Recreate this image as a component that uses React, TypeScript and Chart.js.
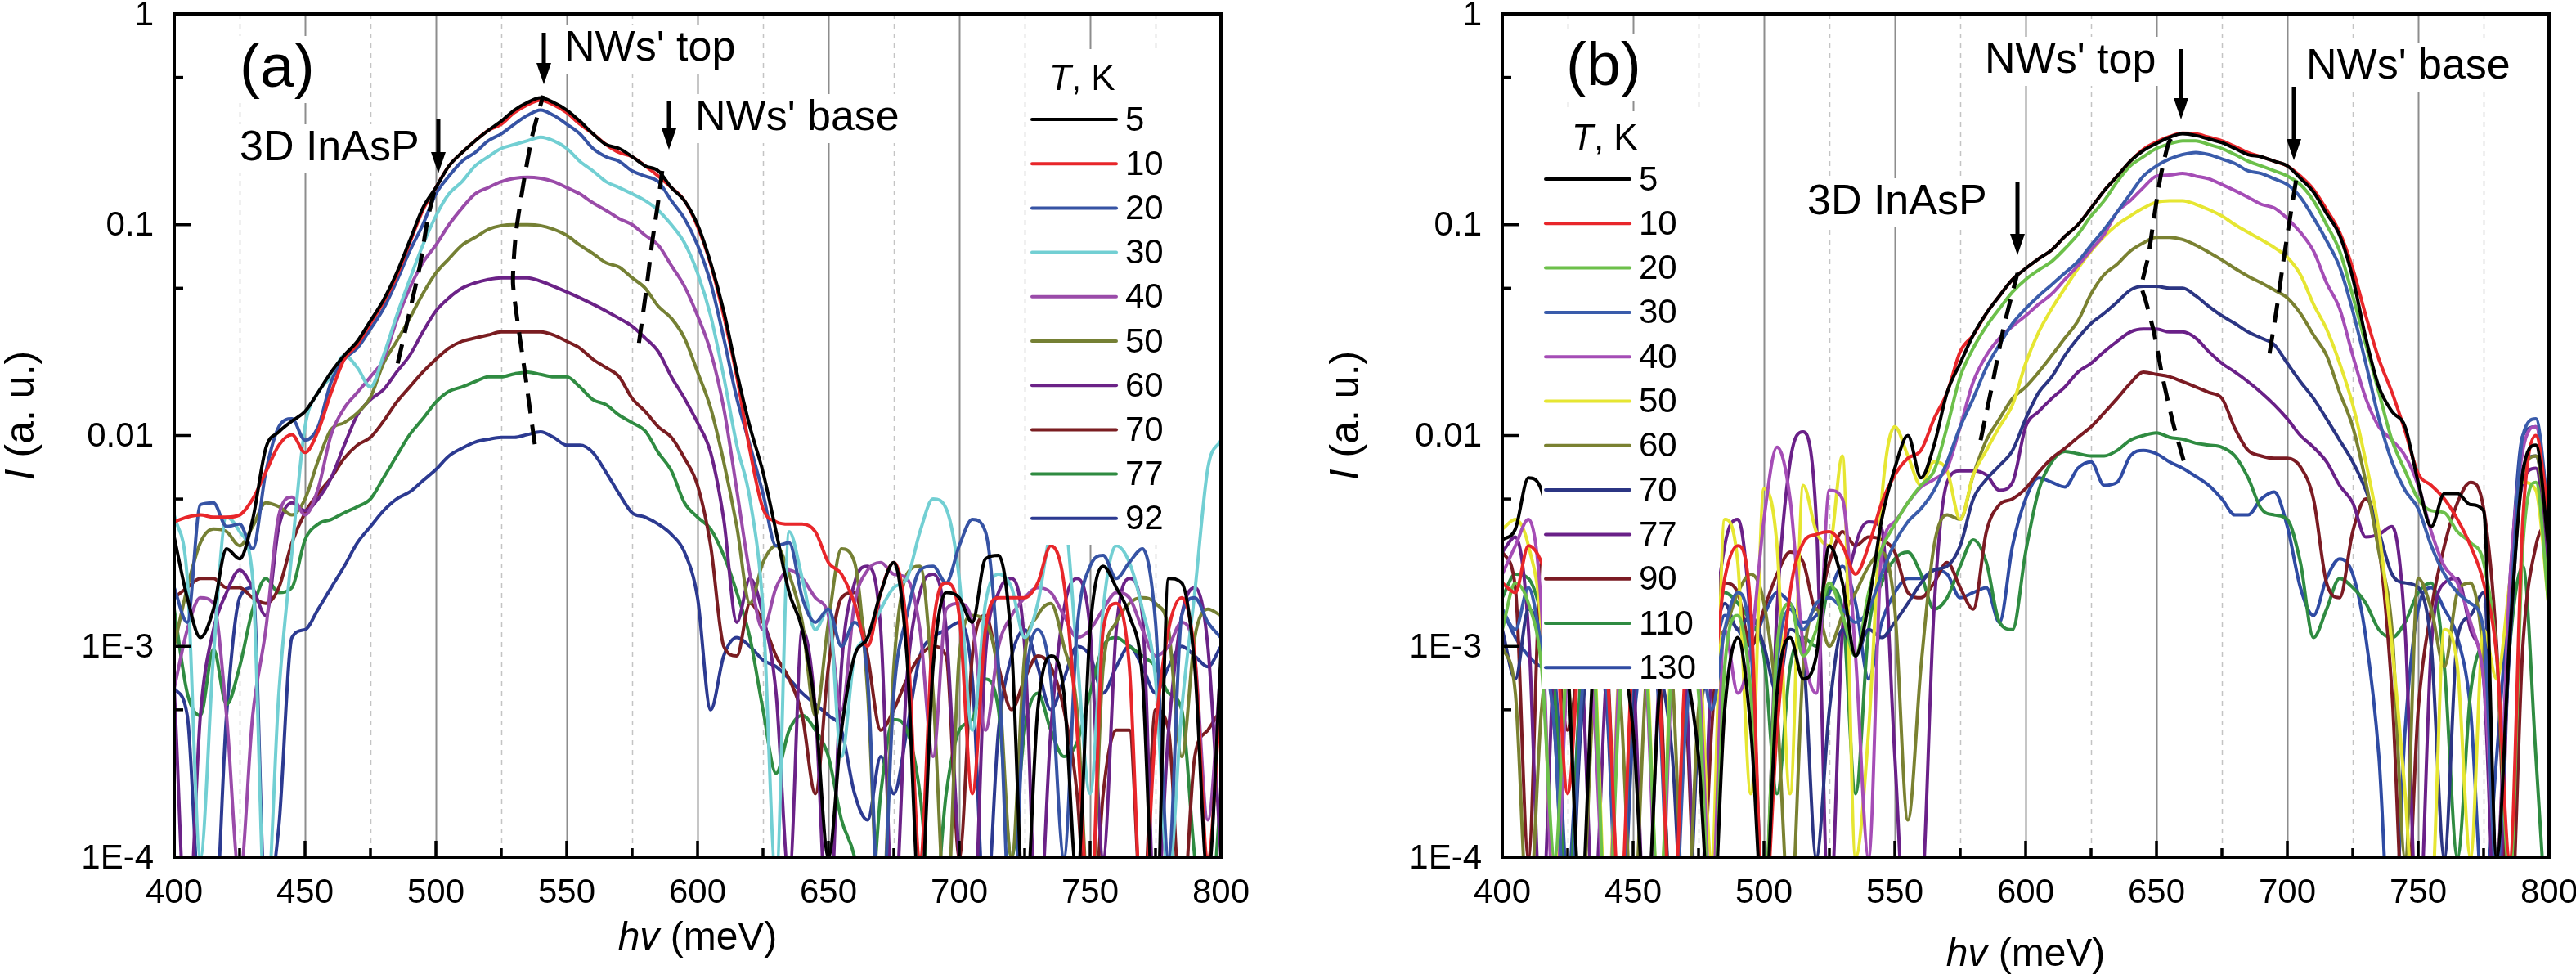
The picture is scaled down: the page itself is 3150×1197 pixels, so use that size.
import { useEffect, useRef } from 'react'
import Chart from 'chart.js/auto'

const FONT = "'Liberation Sans', Arial, Helvetica, sans-serif"

// photon energy grid, meV (both panels)
const energy = [
  400, 405, 410, 415, 420, 425, 430, 435, 440, 445,
  450, 455, 460, 465, 470, 475, 480, 485, 490, 495,
  500, 505, 510, 515, 520, 525, 530, 535, 540, 545,
  550, 555, 560, 565, 570, 575, 580, 585, 590, 595,
  600, 605, 610, 615, 620, 625, 630, 635, 640, 645,
  650, 655, 660, 665, 670, 675, 680, 685, 690, 695,
  700, 705, 710, 715, 720, 725, 730, 735, 740, 745,
  750, 755, 760, 765, 770, 775, 780, 785, 790, 795,
  800,
]

const energyTicks = [400, 450, 500, 550, 600, 650, 700, 750, 800]
const energyMinor = [425, 475, 525, 575, 625, 675, 725, 775]
const intensityTicks = [1, 0.1, 0.01, 0.001, 0.0001]
const intensityLabels = ['1', '0.1', '0.01', '1E-3', '1E-4']
const intensityMinor = [0.5, 0.05, 0.005, 0.0005]

// ---- panel (a) ----
const tempsA = ['5', '10', '20', '30', '40', '50', '60', '70', '77', '92']
const colorsA = ['#000000', '#e8262a', '#3653a4', '#72cfd3', '#9a4ba9', '#758034', '#6b2287', '#7a1d21', '#2f8b41', '#2c3a91']

const a5K = [
  0.0033, 0.0017, 0.0011, 0.0015, 0.0029, 0.0026, 0.0040, 0.0087, 0.0104, 0.0117,
  0.013, 0.016, 0.020, 0.024, 0.028, 0.035, 0.044, 0.059, 0.084, 0.12,
  0.15, 0.19, 0.22, 0.25, 0.28, 0.31, 0.35, 0.38, 0.40, 0.38,
  0.35, 0.31, 0.27, 0.24, 0.23, 0.21, 0.19, 0.18, 0.15, 0.13,
  0.10, 0.066, 0.039, 0.020, 0.011, 0.0067, 0.0035, 0.0018, 0.0012, 0.0005,
  0.0001, 0.0004, 0.0009, 0.0011, 0.0018, 0.0025, 0.0009, 0.00006, 0.0008, 0.0018,
  0.0017, 0.0013, 0.0026, 0.0027, 0.0010, 0.00005, 0.0005, 0.0009, 0.0006, 0.00008,
  0.0012, 0.0024, 0.0019, 0.0014, 0.0007, 0.00004, 0.0021, 0.0020, 0.0008, 0.00008,
  0.0009,
]
const a10K = [
  0.0039, 0.0041, 0.0042, 0.0041, 0.0041, 0.0042, 0.0050, 0.0067, 0.0090, 0.0101,
  0.0083, 0.0105, 0.016, 0.023, 0.027, 0.034, 0.043, 0.057, 0.082, 0.117,
  0.15, 0.19, 0.22, 0.25, 0.28, 0.30, 0.34, 0.37, 0.39, 0.37,
  0.34, 0.30, 0.27, 0.24, 0.22, 0.21, 0.19, 0.17, 0.15, 0.13,
  0.098, 0.065, 0.037, 0.019, 0.0085, 0.0045, 0.0039, 0.0038, 0.0038, 0.0035,
  0.0025, 0.0022, 0.0016, 0.0010, 0.0018, 0.0025, 0.0012, 0.0001, 0.0012, 0.0020,
  0.0014, 0.0002, 0.0012, 0.0017, 0.0017, 0.0017, 0.0020, 0.0030, 0.0020, 0.0004,
  0.00005, 0.0012, 0.0016, 0.0008, 0.00005, 0.0004, 0.0012, 0.0017, 0.0009, 0.0001,
  0.0006,
]
const a20K = [
  0.0019, 0.0013, 0.0047, 0.0048, 0.0037, 0.0038, 0.0029, 0.0067, 0.011, 0.012,
  0.0095, 0.011, 0.018, 0.023, 0.026, 0.032, 0.040, 0.054, 0.075, 0.10,
  0.14, 0.17, 0.20, 0.22, 0.25, 0.27, 0.30, 0.33, 0.35, 0.33,
  0.30, 0.27, 0.23, 0.21, 0.20, 0.18, 0.17, 0.16, 0.13, 0.107,
  0.080, 0.053, 0.029, 0.015, 0.0090, 0.0053, 0.0030, 0.0031, 0.0017, 0.0013,
  0.0015, 0.0010, 0.0013, 0.0007, 0.00004, 0.0006, 0.0014, 0.0023, 0.0024, 0.0020,
  0.0030, 0.0040, 0.0035, 0.0008, 0.00004, 0.0006, 0.0012, 0.0007, 0.0001, 0.0012,
  0.0024, 0.0027, 0.0021, 0.0025, 0.0029, 0.0013, 0.0001, 0.0014, 0.0017, 0.0013,
  0.0011,
]
const a30K = [
  0.0042, 0.0021, 0.0001, 0.0009, 0.0041, 0.0035, 0.0021, 0.00005, 0.0006, 0.0028,
  0.011, 0.016, 0.019, 0.024, 0.021, 0.017, 0.024, 0.037, 0.055, 0.080,
  0.11, 0.14, 0.16, 0.19, 0.21, 0.23, 0.24, 0.25, 0.26, 0.25,
  0.23, 0.20, 0.18, 0.16, 0.15, 0.14, 0.13, 0.117, 0.10, 0.082,
  0.059, 0.037, 0.019, 0.0090, 0.0050, 0.0015, 0.00008, 0.0035, 0.0021, 0.0012,
  0.0015, 0.0003, 0.0009, 0.0011, 0.0015, 0.0019, 0.0021, 0.0035, 0.0050, 0.0045,
  0.0021, 0.0004, 0.0016, 0.0022, 0.0019, 0.0011, 0.0016, 0.0035, 0.0040, 0.0009,
  0.0002, 0.0015, 0.0030, 0.0025, 0.0015, 0.0007, 0.00008, 0.0005, 0.0018, 0.0070,
  0.0095,
]
const a40K = [
  0.00063, 0.0012, 0.0017, 0.0016, 0.00047, 0.00008, 0.00047, 0.0012, 0.0042, 0.0051,
  0.0042, 0.0056, 0.0101, 0.0135, 0.016, 0.019, 0.023, 0.035, 0.050, 0.066,
  0.080, 0.10, 0.12, 0.14, 0.15, 0.16, 0.166, 0.168, 0.166, 0.16,
  0.15, 0.14, 0.127, 0.117, 0.107, 0.10, 0.089, 0.080, 0.064, 0.051,
  0.037, 0.025, 0.0135, 0.0055, 0.0022, 0.0012, 0.0019, 0.0023, 0.0021, 0.0017,
  0.0014, 0.0005, 0.0016, 0.0023, 0.0025, 0.0022, 0.0021, 0.0012, 0.0003, 0.0015,
  0.0016, 0.0013, 0.0004, 0.0010, 0.0014, 0.0017, 0.0019, 0.0018, 0.0014, 0.0011,
  0.0012, 0.0015, 0.0018, 0.0017, 0.0012, 0.0009, 0.0010, 0.0013, 0.0009, 0.00015,
  0.0008,
]
const a50K = [
  0.0010, 0.0019, 0.0031, 0.0036, 0.0035, 0.0030, 0.0037, 0.0048, 0.0046, 0.0042,
  0.0050, 0.0076, 0.0107, 0.0115, 0.0128, 0.0152, 0.022, 0.028, 0.036, 0.047,
  0.059, 0.069, 0.080, 0.087, 0.095, 0.099, 0.10, 0.10, 0.099, 0.095,
  0.089, 0.080, 0.073, 0.066, 0.063, 0.056, 0.050, 0.041, 0.036, 0.029,
  0.020, 0.0135, 0.0075, 0.0037, 0.0016, 0.0025, 0.0030, 0.0022, 0.0013, 0.00047,
  0.0013, 0.0029, 0.0025, 0.0006, 0.00004, 0.0008, 0.0022, 0.0024, 0.0006, 0.00005,
  0.0009, 0.0014, 0.0013, 0.0007, 0.0001, 0.0009, 0.0014, 0.0016, 0.0010, 0.0005,
  0.00005, 0.0008, 0.0013, 0.0016, 0.0017, 0.0016, 0.0012, 0.0003, 0.0011, 0.0015,
  0.0014,
]
const a60K = [
  0.00063, 0.00004, 0.00047, 0.0012, 0.0018, 0.0023, 0.0019, 0.0014, 0.0037, 0.0048,
  0.0044, 0.0050, 0.0063, 0.0090, 0.0125, 0.0148, 0.0165, 0.020, 0.024, 0.031,
  0.039, 0.045, 0.050, 0.053, 0.055, 0.056, 0.056, 0.056, 0.054, 0.051,
  0.048, 0.045, 0.042, 0.039, 0.036, 0.033, 0.029, 0.025, 0.019, 0.015,
  0.0115, 0.0083, 0.0040, 0.0013, 0.0021, 0.0014, 0.0006, 0.00008, 0.0012, 0.0005,
  0.00004, 0.0008, 0.0020, 0.0024, 0.0012, 0.00005, 0.0007, 0.0018, 0.0022, 0.0012,
  0.0001, 0.00004, 0.0009, 0.0018, 0.0021, 0.0010, 0.00004, 0.0004, 0.0015, 0.0021,
  0.0012, 0.0001, 0.0012, 0.0021, 0.0014, 0.00005, 0.0004, 0.0014, 0.0019, 0.0010,
  0.0001,
]
const a70K = [
  0.0017, 0.0019, 0.0021, 0.0021, 0.0019, 0.0019, 0.0017, 0.0016, 0.0019, 0.0031,
  0.0043, 0.0053, 0.0063, 0.0078, 0.0090, 0.0098, 0.0117, 0.0144, 0.017, 0.020,
  0.023, 0.026, 0.028, 0.029, 0.030, 0.031, 0.031, 0.031, 0.031, 0.030,
  0.028, 0.026, 0.023, 0.021, 0.019, 0.015, 0.013, 0.011, 0.0098, 0.0078,
  0.0058, 0.0030, 0.0010, 0.0009, 0.0016, 0.0013, 0.0009, 0.0007, 0.00047, 0.0002,
  0.0008, 0.0017, 0.0018, 0.0009, 0.0004, 0.0005, 0.0007, 0.0009, 0.0010, 0.0009,
  0.0001, 0.0009, 0.0014, 0.0008, 0.0005, 0.0007, 0.0009, 0.0008, 0.0005, 0.0002,
  0.00003, 0.0002, 0.0004, 0.0004, 0.00005, 0.0005, 0.0004, 0.00005, 0.0003, 0.0004,
  0.0005,
]
const a77K = [
  0.0015, 0.0006, 0.00047, 0.00097, 0.00053, 0.0008, 0.0015, 0.0021, 0.0018, 0.0019,
  0.0032, 0.0038, 0.0040, 0.0043, 0.0046, 0.0050, 0.0063, 0.0080, 0.0101, 0.012,
  0.0144, 0.0162, 0.017, 0.018, 0.019, 0.019, 0.0196, 0.020, 0.0195, 0.019,
  0.019, 0.017, 0.0148, 0.014, 0.0125, 0.0115, 0.0105, 0.0083, 0.0068, 0.0048,
  0.0041, 0.0036, 0.0027, 0.0018, 0.0011, 0.0005, 0.00025, 0.0004, 0.00047, 0.0004,
  0.0003, 0.00015, 0.0001, 0.00004, 0.0002, 0.00045, 0.0004, 0.0002, 0.00005, 0.0002,
  0.0004, 0.00045, 0.0007, 0.0005, 0.0001, 0.0004, 0.0006, 0.0004, 0.0003, 0.00035,
  0.0006, 0.0010, 0.0011, 0.0010, 0.0009, 0.0008, 0.0006, 0.0005, 0.0001, 0.00004,
  0.0002,
]
const a92K = [
  0.00063, 0.00047, 0.00005, 0.00004, 0.00047, 0.0017, 0.0019, 0.00006, 0.00014, 0.0011,
  0.0012, 0.0015, 0.0019, 0.0024, 0.0031, 0.0037, 0.0044, 0.0050, 0.0054, 0.0061,
  0.0069, 0.0080, 0.0087, 0.0093, 0.0096, 0.0098, 0.0098, 0.0101, 0.0104, 0.0098,
  0.0090, 0.0090, 0.0083, 0.0067, 0.0053, 0.0043, 0.0041, 0.0038, 0.0034, 0.0028,
  0.0017, 0.0005, 0.0009, 0.0011, 0.0010, 0.00086, 0.0008, 0.0007, 0.0006, 0.00053,
  0.00047, 0.0004, 0.0002, 0.00015, 0.0003, 0.0002, 0.0004, 0.0009, 0.0011, 0.0012,
  0.0013, 0.0007, 0.00005, 0.0004, 0.0009, 0.0012, 0.0008, 0.0005, 0.0007, 0.0010,
  0.0009, 0.0006, 0.0008, 0.0010, 0.0008, 0.0006, 0.0008, 0.0010, 0.0009, 0.0008,
  0.0010,
]

// dashed guides in (a): [meV, intensity]
const guideA1 = [[485.4, 0.022], [489.6, 0.037], [493.8, 0.063], [496.9, 0.107], [500, 0.155]]
const guideA2 = [[537.8, 0.0091], [534, 0.02], [529.5, 0.052], [530.5, 0.089], [533.5, 0.158], [537, 0.27], [541, 0.41]]
const guideA3 = [[577.6, 0.0275], [580.2, 0.047], [582.8, 0.085], [584.9, 0.127], [586.5, 0.18]]

// ---- panel (b) ----
const tempsB = ['5', '10', '20', '30', '40', '50', '60', '70', '77', '90', '110', '130']
const colorsB = ['#000000', '#e8262a', '#6cc04a', '#3a5cab', '#a54db6', '#e6e632', '#7a8131', '#2b3583', '#6a2088', '#7b1b23', '#2f8b41', '#2f4ba3']

const b5K = [
  0.0032, 0.0036, 0.0063, 0.0055, 0.0025, 0.0008, 0.00006, 0.0009, 0.0015, 0.0010,
  0.0004, 0.00005, 0.0006, 0.0012, 0.0008, 0.0003, 0.00004, 0.0005, 0.0011, 0.0004,
  0.00005, 0.0006, 0.0011, 0.0007, 0.0009, 0.0030, 0.0020, 0.0009, 0.0016, 0.0040,
  0.0070, 0.0100, 0.0063, 0.0090, 0.016, 0.022, 0.030, 0.038, 0.046, 0.055,
  0.062, 0.069, 0.076, 0.088, 0.10, 0.12, 0.145, 0.17, 0.20, 0.225,
  0.243, 0.26, 0.27, 0.265, 0.255, 0.245, 0.23, 0.215, 0.21, 0.20,
  0.19, 0.166, 0.143, 0.113, 0.089, 0.056, 0.029, 0.017, 0.013, 0.011,
  0.006, 0.0037, 0.0053, 0.0053, 0.0047, 0.0044, 0.0001, 0.0011, 0.0067, 0.009,
  0.0028,
]
const b10K = [
  0.0020, 0.0018, 0.0030, 0.0025, 0.0015, 0.0002, 0.0012, 0.0020, 0.0008, 0.00006,
  0.0010, 0.0018, 0.0006, 0.00004, 0.0008, 0.0016, 0.0007, 0.0021, 0.0030, 0.0015,
  0.00005, 0.0004, 0.0018, 0.0031, 0.0034, 0.0035, 0.0030, 0.0022, 0.0030, 0.0048,
  0.0065, 0.0078, 0.0085, 0.012, 0.016, 0.025, 0.030, 0.038, 0.046, 0.055,
  0.062, 0.069, 0.076, 0.088, 0.10, 0.12, 0.145, 0.17, 0.20, 0.228,
  0.247, 0.262, 0.272, 0.27, 0.26, 0.25, 0.235, 0.22, 0.21, 0.20,
  0.19, 0.17, 0.147, 0.118, 0.092, 0.062, 0.037, 0.023, 0.016, 0.0105,
  0.0066, 0.0058, 0.0050, 0.0040, 0.0030, 0.0020, 0.0009, 0.0001, 0.0040, 0.010,
  0.0040,
]
const b20K = [
  0.0012, 0.0020, 0.0016, 0.0008, 0.0001, 0.0010, 0.0018, 0.0009, 0.00004, 0.0006,
  0.0014, 0.0008, 0.00006, 0.0009, 0.0015, 0.0006, 0.00004, 0.0008, 0.0014, 0.0006,
  0.00006, 0.0010, 0.0016, 0.0009, 0.0012, 0.0020, 0.0014, 0.0009, 0.0018, 0.0029,
  0.0038, 0.0048, 0.0058, 0.0068, 0.011, 0.019, 0.026, 0.033, 0.040, 0.048,
  0.055, 0.061, 0.067, 0.077, 0.090, 0.11, 0.13, 0.16, 0.19, 0.21,
  0.23, 0.242, 0.25, 0.25, 0.24, 0.23, 0.215, 0.20, 0.19, 0.18,
  0.17, 0.155, 0.13, 0.10, 0.075, 0.046, 0.027, 0.016, 0.0095, 0.0068,
  0.0050, 0.0044, 0.0043, 0.0035, 0.0031, 0.0025, 0.0009, 0.00008, 0.0030, 0.0060,
  0.0015,
]
const b30K = [
  0.0015, 0.0012, 0.0019, 0.0010, 0.0004, 0.00003, 0.0005, 0.0012, 0.0006, 0.00004,
  0.0008, 0.0013, 0.0005, 0.00003, 0.0004, 0.0010, 0.0005, 0.0012, 0.0018, 0.0010,
  0.00006, 0.0008, 0.0015, 0.0012, 0.0016, 0.0017, 0.0015, 0.0013, 0.0015, 0.0022,
  0.0031, 0.0039, 0.0045, 0.0055, 0.0075, 0.011, 0.015, 0.021, 0.027, 0.034,
  0.040, 0.046, 0.052, 0.059, 0.067, 0.080, 0.095, 0.115, 0.14, 0.17,
  0.19, 0.205, 0.215, 0.22, 0.215, 0.205, 0.195, 0.18, 0.175, 0.165,
  0.155, 0.135, 0.108, 0.084, 0.063, 0.039, 0.022, 0.012, 0.0075, 0.0055,
  0.0045, 0.0030, 0.0022, 0.0018, 0.0016, 0.0012, 0.00008, 0.0012, 0.010, 0.012,
  0.0040,
]
const b40K = [
  0.0022, 0.0030, 0.0040, 0.0015, 0.00005, 0.0008, 0.0015, 0.0005, 0.00004, 0.0009,
  0.0016, 0.0007, 0.00004, 0.0008, 0.0015, 0.0008, 0.00006, 0.0012, 0.0006, 0.0010,
  0.0040, 0.0088, 0.0050, 0.0010, 0.0006, 0.0055, 0.0050, 0.0009, 0.0001, 0.0028,
  0.0039, 0.0048, 0.0057, 0.0062, 0.0070, 0.011, 0.018, 0.024, 0.029, 0.033,
  0.037, 0.042, 0.047, 0.055, 0.064, 0.076, 0.090, 0.115, 0.13, 0.15,
  0.17, 0.172, 0.175, 0.17, 0.165, 0.155, 0.145, 0.135, 0.125, 0.12,
  0.107, 0.092, 0.075, 0.053, 0.040, 0.024, 0.015, 0.011, 0.0095, 0.0080,
  0.0058, 0.0035, 0.0024, 0.0020, 0.0013, 0.0007, 0.0001, 0.0020, 0.0085, 0.011,
  0.0035,
]
const b50K = [
  0.0036, 0.0040, 0.0030, 0.0012, 0.00006, 0.0012, 0.0022, 0.0010, 0.00005, 0.0010,
  0.0020, 0.0010, 0.00005, 0.0012, 0.0024, 0.0012, 0.0001, 0.0040, 0.0025, 0.0002,
  0.0056, 0.0030, 0.0002, 0.0058, 0.0035, 0.0030, 0.0080, 0.0001, 0.0004, 0.0050,
  0.011, 0.0080, 0.0058, 0.0075, 0.0068, 0.0040, 0.0065, 0.0085, 0.011, 0.014,
  0.022, 0.031, 0.040, 0.050, 0.062, 0.075, 0.088, 0.10, 0.11, 0.12,
  0.128, 0.13, 0.13, 0.125, 0.118, 0.11, 0.10, 0.092, 0.085, 0.078,
  0.070, 0.058, 0.042, 0.032, 0.022, 0.014, 0.0075, 0.0035, 0.0010, 0.0002,
  0.00003, 0.00005, 0.0012, 0.0008, 0.0001, 0.0012, 0.0007, 0.0020, 0.0060, 0.0055,
  0.0015,
]
const b60K = [
  0.0010, 0.0006, 0.00005, 0.0005, 0.0012, 0.0008, 0.00005, 0.0006, 0.0012, 0.0006,
  0.00005, 0.0007, 0.0013, 0.0007, 0.00004, 0.0005, 0.0010, 0.0012, 0.0018, 0.0022,
  0.0016, 0.0005, 0.00005, 0.0008, 0.0015, 0.0010, 0.0014, 0.0018, 0.0024, 0.0028,
  0.0015, 0.00015, 0.0008, 0.0030, 0.0042, 0.0040, 0.0065, 0.0095, 0.012, 0.015,
  0.017, 0.020, 0.024, 0.029, 0.035, 0.047, 0.058, 0.065, 0.075, 0.082,
  0.087, 0.087, 0.085, 0.080, 0.074, 0.068, 0.062, 0.057, 0.053, 0.049,
  0.045, 0.038, 0.030, 0.024, 0.016, 0.011, 0.0060, 0.0028, 0.0012, 0.0001,
  0.0021, 0.0015, 0.0008, 0.0018, 0.0020, 0.0009, 0.0001, 0.0015, 0.0065, 0.0080,
  0.0030,
]
const b70K = [
  0.0012, 0.0007, 0.0015, 0.0011, 0.0004, 0.00003, 0.0004, 0.0010, 0.0006, 0.00005,
  0.0006, 0.0012, 0.0008, 0.0003, 0.00003, 0.0004, 0.0009, 0.0016, 0.0012, 0.0014,
  0.0010, 0.0006, 0.0012, 0.0009, 0.0001, 0.0005, 0.0012, 0.0009, 0.0012, 0.0011,
  0.0013, 0.0016, 0.0020, 0.0023, 0.0024, 0.0030, 0.0050, 0.0062, 0.0072, 0.0085,
  0.012, 0.016, 0.019, 0.024, 0.029, 0.034, 0.038, 0.043, 0.049, 0.051,
  0.051, 0.050, 0.050, 0.046, 0.041, 0.037, 0.034, 0.031, 0.029, 0.027,
  0.022, 0.018, 0.015, 0.012, 0.0095, 0.0075, 0.0055, 0.0035, 0.0022, 0.0020,
  0.0019, 0.0010, 0.0001, 0.0011, 0.0014, 0.0018, 0.0001, 0.0010, 0.0070, 0.0080,
  0.0030,
]
const b77K = [
  0.0028, 0.0033, 0.0012, 0.00005, 0.0010, 0.0020, 0.0010, 0.00006, 0.0008, 0.0016,
  0.0008, 0.00004, 0.0007, 0.0015, 0.0007, 0.00004, 0.0008, 0.0030, 0.0040, 0.0012,
  0.00005, 0.0015, 0.0075, 0.0104, 0.0040, 0.00005, 0.0012, 0.0030, 0.0039, 0.0036,
  0.0003, 0.00003, 0.00005, 0.0015, 0.0060, 0.0068, 0.0068, 0.0065, 0.0055, 0.0060,
  0.011, 0.013, 0.015, 0.017, 0.020, 0.022, 0.025, 0.028, 0.031, 0.032,
  0.032, 0.031, 0.031, 0.029, 0.025, 0.022, 0.020, 0.018, 0.016, 0.014,
  0.012, 0.010, 0.0088, 0.0075, 0.0058, 0.0048, 0.0033, 0.0034, 0.0037, 0.0012,
  0.00004, 0.0010, 0.0020, 0.0021, 0.0012, 0.0007, 0.00004, 0.0012, 0.0060, 0.0070,
  0.0020,
]
const b90K = [
  0.0028, 0.0019, 0.0001, 0.0025, 0.0012, 0.0004, 0.0010, 0.0018, 0.0009, 0.00005,
  0.0009, 0.0016, 0.0008, 0.00004, 0.0004, 0.00003, 0.0004, 0.0020, 0.0018, 0.0010,
  0.0015, 0.0022, 0.0028, 0.0025, 0.0015, 0.0025, 0.0035, 0.0030, 0.0033, 0.0032,
  0.0028, 0.0018, 0.0017, 0.0020, 0.0025, 0.0019, 0.0015, 0.0035, 0.0047, 0.0050,
  0.0056, 0.0067, 0.0078, 0.0087, 0.0098, 0.011, 0.0128, 0.015, 0.0177, 0.020,
  0.0195, 0.019, 0.018, 0.017, 0.016, 0.015, 0.0108, 0.0085, 0.0080, 0.0078,
  0.0078, 0.0071, 0.0050, 0.0020, 0.0017, 0.0035, 0.0050, 0.0030, 0.0006, 0.00004,
  0.0005, 0.0015, 0.0030, 0.0048, 0.0060, 0.0045, 0.0010, 0.00004, 0.0010, 0.0030,
  0.0040,
]
const b110K = [
  0.0017, 0.0022, 0.0021, 0.0014, 0.0006, 0.00005, 0.0007, 0.0013, 0.0007, 0.00005,
  0.0006, 0.0012, 0.0007, 0.00004, 0.0006, 0.0012, 0.0016, 0.0018, 0.0016, 0.0013,
  0.0009, 0.0002, 0.0008, 0.0011, 0.0010, 0.0019, 0.0015, 0.0002, 0.0012, 0.0020,
  0.0026, 0.0028, 0.0022, 0.0015, 0.0017, 0.0024, 0.0032, 0.0025, 0.0013, 0.0012,
  0.0028, 0.0055, 0.0075, 0.0084, 0.0082, 0.0080, 0.0080, 0.0085, 0.0095, 0.0100,
  0.0103, 0.0098, 0.0096, 0.0092, 0.0090, 0.0088, 0.0080, 0.0063, 0.0045, 0.0042,
  0.0040, 0.0025, 0.0011, 0.0015, 0.0021, 0.0019, 0.0016, 0.0012, 0.0011, 0.0013,
  0.0018, 0.0020, 0.0008, 0.0001, 0.0006, 0.0010, 0.0001, 0.0010, 0.0024, 0.0003,
  0.00003,
]
const b130K = [
  0.0015, 0.0011, 0.0009, 0.0008, 0.0007, 0.00008, 0.0006, 0.0010, 0.0005, 0.00003,
  0.0004, 0.0010, 0.0006, 0.00005, 0.0005, 0.0011, 0.0009, 0.0014, 0.0012, 0.0010,
  0.0014, 0.0018, 0.0016, 0.0013, 0.0014, 0.0018, 0.0024, 0.0016, 0.0007, 0.0013,
  0.0018, 0.0021, 0.0021, 0.0023, 0.0022, 0.0017, 0.0018, 0.0019, 0.0013, 0.0030,
  0.0050, 0.0063, 0.0060, 0.0057, 0.0070, 0.0075, 0.0058, 0.0060, 0.0080, 0.0085,
  0.0082, 0.0075, 0.0070, 0.0064, 0.0058, 0.0050, 0.0042, 0.0042, 0.0050, 0.0054,
  0.0037, 0.0019, 0.0014, 0.0021, 0.0026, 0.0022, 0.0011, 0.0003, 0.00003, 0.0004,
  0.0015, 0.0019, 0.0015, 0.0011, 0.0005, 0.00006, 0.0003, 0.0020, 0.0100, 0.0110,
  0.0040,
]

const guideB1 = [[582.8, 0.0095], [587.5, 0.018], [591.7, 0.033], [596.9, 0.059]]
const guideB2 = [[660.4, 0.0076], [656.3, 0.0115], [652.1, 0.0195], [649, 0.031], [645.8, 0.044], [644.3, 0.051], [646.9, 0.071], [649, 0.107], [651.6, 0.17], [654.7, 0.245], [657.8, 0.28]]
const guideB3 = [[693.2, 0.0245], [695.8, 0.039], [698.4, 0.066], [701, 0.107], [703.6, 0.17]]

type Rich = [string, boolean][]

interface Note {
  text: string
  x: number
  y: number
  arrowX: number
  arrowTop: number
  arrowTip: number
}

interface PanelSpec {
  offset: number
  padLeft: number
  padRight: number
  series: number[][]
  temps: string[]
  colors: string[]
  guides: number[][][]
  tag: { text: string; x: number; y: number }
  notes: Note[]
  legend: { box: number[]; titleX: number; titleY: number; firstRow: number; rowStep: number; lineX1: number; lineX2: number; textX: number }
  xTitleY: number
  yTitleX: number
}

const panelA: PanelSpec = {
  offset: 0,
  padLeft: 213,
  padRight: 82,
  series: [a5K, a10K, a20K, a30K, a40K, a50K, a60K, a70K, a77K, a92K],
  temps: tempsA,
  colors: colorsA,
  guides: [guideA1, guideA2, guideA3],
  tag: { text: '(a)', x: 293, y: 106 },
  notes: [
    { text: '3D InAsP', x: 293, y: 196, arrowX: 536, arrowTop: 146, arrowTip: 212 },
    { text: "NWs' top", x: 690, y: 74, arrowX: 665, arrowTop: 40, arrowTip: 103 },
    { text: "NWs' base", x: 850, y: 159, arrowX: 818, arrowTop: 123, arrowTip: 183 },
  ],
  legend: { box: [1256, 60, 1428, 666], titleX: 1283, titleY: 110, firstRow: 146, rowStep: 54.2, lineX1: 1262, lineX2: 1365, textX: 1376 },
  xTitleY: 1161,
  yTitleX: 27,
}

const panelB: PanelSpec = {
  offset: 1575,
  padLeft: 262,
  padRight: 33,
  series: [b5K, b10K, b20K, b30K, b40K, b50K, b60K, b70K, b77K, b90K, b110K, b130K],
  temps: tempsB,
  colors: colorsB,
  guides: [guideB1, guideB2, guideB3],
  tag: { text: '(b)', x: 1915, y: 104 },
  notes: [
    { text: '3D InAsP', x: 2210, y: 262, arrowX: 2467, arrowTop: 222, arrowTip: 312 },
    { text: "NWs' top", x: 2427, y: 89, arrowX: 2667, arrowTop: 60, arrowTip: 146 },
    { text: "NWs' base", x: 2820, y: 96, arrowX: 2805, arrowTop: 106, arrowTip: 196 },
  ],
  legend: { box: [1886, 136, 2102, 842], titleX: 1922, titleY: 183, firstRow: 219, rowStep: 54.3, lineX1: 1890, lineX2: 1993, textX: 2004 },
  xTitleY: 1181,
  yTitleX: 1647,
}

function setFont(ctx: CanvasRenderingContext2D, size: number, italic: boolean) {
  ctx.font = `${italic ? 'italic ' : ''}${size}px ${FONT}`
}

function drawRich(ctx: CanvasRenderingContext2D, parts: Rich, x: number, y: number, size: number, align: 'left' | 'center', baseline: CanvasTextBaseline) {
  let total = 0
  for (const [t, it] of parts) {
    setFont(ctx, size, it)
    total += ctx.measureText(t).width
  }
  let cx = align === 'center' ? x - total / 2 : x
  ctx.textAlign = 'left'
  ctx.textBaseline = baseline
  ctx.fillStyle = '#000'
  for (const [t, it] of parts) {
    setFont(ctx, size, it)
    ctx.fillText(t, cx, y)
    cx += ctx.measureText(t).width
  }
}

function drawArrow(ctx: CanvasRenderingContext2D, x: number, top: number, tip: number) {
  const head = 26
  const half = 9
  ctx.save()
  ctx.strokeStyle = '#000'
  ctx.fillStyle = '#000'
  ctx.lineWidth = 5
  ctx.beginPath()
  ctx.moveTo(x, top)
  ctx.lineTo(x, tip - head + 2)
  ctx.stroke()
  ctx.beginPath()
  ctx.moveTo(x - half, tip - head)
  ctx.lineTo(x + half, tip - head)
  ctx.lineTo(x, tip)
  ctx.closePath()
  ctx.fill()
  ctx.restore()
}

function decorPlugin(spec: PanelSpec) {
  const off = spec.offset
  return {
    id: 'decor',
    beforeDatasetsDraw(chart: any) {
      const { ctx, chartArea: area, scales } = chart
      const xs = scales.x
      ctx.save()
      for (const e of energyTicks) {
        if (e === 400 || e === 800) continue
        const px = Math.round(xs.getPixelForValue(e)) + 0.5
        ctx.strokeStyle = '#8d8d8d'
        ctx.lineWidth = 2
        ctx.setLineDash([])
        ctx.beginPath()
        ctx.moveTo(px, area.top)
        ctx.lineTo(px, area.bottom)
        ctx.stroke()
      }
      for (const e of energyMinor) {
        const px = Math.round(xs.getPixelForValue(e)) + 0.5
        ctx.strokeStyle = '#c4c4c4'
        ctx.lineWidth = 1.5
        ctx.setLineDash([6, 6])
        ctx.beginPath()
        ctx.moveTo(px, area.top)
        ctx.lineTo(px, area.bottom)
        ctx.stroke()
      }
      ctx.setLineDash([])
      // white patches behind the annotations
      ctx.fillStyle = '#fff'
      setFont(ctx, 75, false)
      const tw = ctx.measureText(spec.tag.text).width
      ctx.fillRect(spec.tag.x - off - 6, spec.tag.y - 62, tw + 12, 82)
      setFont(ctx, 52, false)
      for (const n of spec.notes) {
        const w = ctx.measureText(n.text).width
        ctx.fillRect(n.x - off - 6, n.y - 44, w + 12, 60)
      }
      ctx.restore()
    },
    afterDatasetsDraw(chart: any) {
      const { ctx, chartArea: area, scales } = chart
      const xs = scales.x
      const ys = scales.y
      ctx.save()

      // legend
      const lg = spec.legend
      ctx.fillStyle = '#fff'
      ctx.fillRect(lg.box[0] - off, lg.box[1], lg.box[2] - lg.box[0], lg.box[3] - lg.box[1])
      drawRich(ctx, [['T', true], [', K', false]], lg.titleX - off, lg.titleY, 44, 'left', 'alphabetic')
      spec.temps.forEach((t, i) => {
        const y = lg.firstRow + i * lg.rowStep
        ctx.strokeStyle = spec.colors[i]
        ctx.lineWidth = 4
        ctx.lineCap = 'round'
        ctx.beginPath()
        ctx.moveTo(lg.lineX1 - off, y)
        ctx.lineTo(lg.lineX2 - off, y)
        ctx.stroke()
        drawRich(ctx, [[t, false]], lg.textX - off, y + 2, 42, 'left', 'middle')
      })
      ctx.lineCap = 'butt'

      // panel tag, notes, arrows
      drawRich(ctx, [[spec.tag.text, false]], spec.tag.x - off, spec.tag.y, 75, 'left', 'alphabetic')
      for (const n of spec.notes) {
        drawRich(ctx, [[n.text, false]], n.x - off, n.y, 52, 'left', 'alphabetic')
        drawArrow(ctx, n.arrowX - off, n.arrowTop, n.arrowTip)
      }

      // frame
      ctx.strokeStyle = '#000'
      ctx.lineWidth = 4
      ctx.strokeRect(area.left, area.top, area.right - area.left, area.bottom - area.top)

      // inward ticks
      ctx.lineWidth = 3.5
      for (const e of energyTicks) {
        const px = xs.getPixelForValue(e)
        ctx.beginPath()
        ctx.moveTo(px, area.bottom)
        ctx.lineTo(px, area.bottom - 20)
        ctx.stroke()
      }
      for (const e of energyMinor) {
        const px = xs.getPixelForValue(e)
        ctx.beginPath()
        ctx.moveTo(px, area.bottom)
        ctx.lineTo(px, area.bottom - 11)
        ctx.stroke()
      }
      for (const v of intensityTicks) {
        const py = ys.getPixelForValue(v)
        ctx.beginPath()
        ctx.moveTo(area.left, py)
        ctx.lineTo(area.left + 20, py)
        ctx.stroke()
      }
      for (const v of intensityMinor) {
        const py = ys.getPixelForValue(v)
        ctx.beginPath()
        ctx.moveTo(area.left, py)
        ctx.lineTo(area.left + 11, py)
        ctx.stroke()
      }

      // tick labels
      for (const e of energyTicks) {
        drawRich(ctx, [[String(e), false]], xs.getPixelForValue(e), 1092, 42, 'center', 'middle')
      }
      intensityTicks.forEach((v, i) => {
        const py = ys.getPixelForValue(v)
        setFont(ctx, 42, false)
        const w = ctx.measureText(intensityLabels[i]).width
        drawRich(ctx, [[intensityLabels[i], false]], area.left - 25 - w, py + 2, 42, 'left', 'middle')
      })

      // axis titles
      drawRich(ctx, [['hv', true], [' (meV)', false]], (area.left + area.right) / 2, spec.xTitleY, 48, 'center', 'alphabetic')
      ctx.translate(spec.yTitleX - off, 508)
      ctx.rotate(-Math.PI / 2)
      drawRich(ctx, [['I', true], [' (a. u.)', false]], 0, 0, 50, 'center', 'middle')
      ctx.restore()
    },
  }
}

function SpectraPanel({ spec }: { spec: PanelSpec }) {
  const canvasRef = useRef<HTMLCanvasElement>(null)

  useEffect(() => {
    const canvas = canvasRef.current
    if (!canvas) return

    const curves = spec.series.map((vals, i) => ({
      label: spec.temps[i] + ' K',
      data: vals.map((v, j) => ({ x: energy[j], y: v })),
      borderColor: spec.colors[i],
      backgroundColor: spec.colors[i],
      borderWidth: 4,
      pointRadius: 0,
      cubicInterpolationMode: 'monotone' as const,
      clip: 0,
      order: i,
    }))
    const guides = spec.guides.map((g) => ({
      label: 'guide',
      data: g.map(([x, y]) => ({ x, y })),
      borderColor: '#000',
      borderWidth: 5,
      borderDash: [24, 14],
      pointRadius: 0,
      tension: 0.2,
      clip: 0,
      order: -1,
    }))

    const chart = new Chart(canvas, {
      type: 'line',
      data: { datasets: [...guides, ...curves] as any },
      options: {
        animation: false,
        responsive: false,
        devicePixelRatio: 1,
        events: [],
        layout: { padding: { left: spec.padLeft, right: spec.padRight, top: 17, bottom: 149 } },
        plugins: { legend: { display: false }, tooltip: { enabled: false } },
        scales: {
          x: { type: 'linear', min: 400, max: 800, display: false },
          y: { type: 'logarithmic', min: 0.0001, max: 1, display: false },
        },
      },
      plugins: [decorPlugin(spec)],
    })

    return () => {
      chart.destroy()
    }
  }, [spec])

  return (
    <canvas
      ref={canvasRef}
      width={1575}
      height={1197}
      style={{ position: 'absolute', left: spec.offset, top: 0, width: 1575, height: 1197, display: 'block' }}
    />
  )
}

export default function App() {
  useEffect(() => {
    document.body.style.margin = '0'
  }, [])

  return (
    <div style={{ position: 'relative', width: 3150, height: 1197, background: '#fff', overflow: 'hidden' }}>
      <SpectraPanel spec={panelA} />
      <SpectraPanel spec={panelB} />
    </div>
  )
}
